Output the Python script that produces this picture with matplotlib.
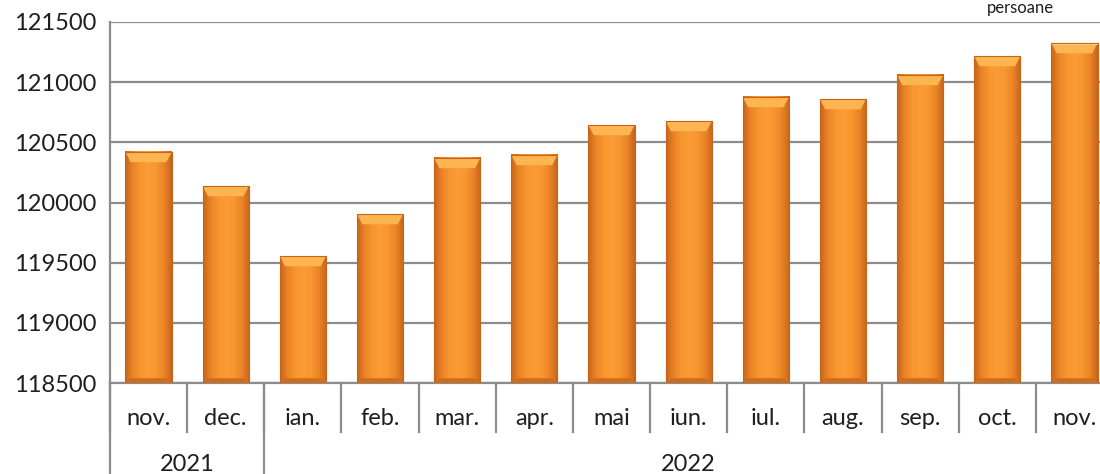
import numpy as np
import matplotlib.pyplot as plt
from matplotlib.patches import Polygon
from matplotlib.colors import LinearSegmentedColormap

months = ["nov.", "dec.", "ian.", "feb.", "mar.", "apr.", "mai", "iun.",
          "iul.", "aug.", "sep.", "oct.", "nov."]
values = [120420, 120137, 119555, 119904, 120370, 120395, 120644, 120677,
          120877, 120860, 121060, 121217, 121325]
years = ["2021", "2022"]
year_counts = [2, 11]
y_ticks = [118500, 119000, 119500, 120000, 120500, 121000, 121500]

plt.rcParams['font.family'] = ['Lato', 'DejaVu Sans']
fs = 17
txt_c = "#1f1f1f"
fig = plt.figure(figsize=(11, 4.74), dpi=100)
# axes extend slightly past the right edge like the original
ax = fig.add_axes([110 / 1100, 1 - 383 / 474, 1003 / 1100, 361 / 474])

ymin, ymax = y_ticks[0], y_ticks[-1]
ax.set_ylim(ymin, ymax)
ax.set_xlim(0, len(months))
grid_c = "#8c8c8c"
for t in y_ticks:
    ax.axhline(t, color=grid_c, lw=1.6, zorder=0)

# bar with a shaded gradient and bevelled top
cmap = LinearSegmentedColormap.from_list(
    "bar", ["#c8661c", "#ec8427", "#f8962f", "#fb9c36", "#f8962f", "#ec8427", "#c8661c"])
w = 0.6
xs = np.arange(len(months)) + 0.5
bev_x = 0.07
bev_y = 85
for x, v in zip(xs, values):
    prof = np.linspace(0, 1, 60)
    img = np.tile(prof, (40, 1))
    ax.imshow(img, cmap=cmap, extent=[x - w / 2, x + w / 2, ymin, v],
              aspect="auto", zorder=2, interpolation="bilinear")
    # darker bottom strip
    ax.add_patch(Polygon([[x - w / 2, ymin], [x + w / 2, ymin],
                          [x + w / 2 - bev_x, ymin + 40], [x - w / 2 + bev_x, ymin + 40]],
                         closed=True, fc="#cf6d1f", ec="none", zorder=3))
    # light top bevel
    ax.add_patch(Polygon([[x - w / 2, v], [x + w / 2, v],
                          [x + w / 2 - bev_x, v - bev_y], [x - w / 2 + bev_x, v - bev_y]],
                         closed=True, fc="#fdb552", ec="none", zorder=3))
    ax.add_patch(Polygon([[x - w / 2, v], [x + w / 2, v], [x + w / 2, v - 12], [x - w / 2, v - 12]],
                         closed=True, fc="#fed089", ec="none", zorder=3))
    ax.plot([x - w / 2, x - w / 2, x + w / 2, x + w / 2], [ymin, v, v, ymin],
            color="#c86318", lw=0.8, zorder=4)

for s in ["top", "right"]:
    ax.spines[s].set_visible(False)
ax.spines["left"].set_color(grid_c)
ax.spines["left"].set_linewidth(1.6)
ax.spines["bottom"].set_color(grid_c)
ax.spines["bottom"].set_linewidth(1.6)

ax.set_yticks(y_ticks)
ax.set_yticklabels([str(t) for t in y_ticks], fontsize=fs, color=txt_c)
ax.tick_params(axis="y", length=0, pad=10)
ax.set_xticks(xs)
ax.set_xticklabels([])
ax.tick_params(axis="x", direction="in", length=5, color=grid_c, width=1.2)

xt = ax.get_xaxis_transform()
# month row
for i, m in enumerate(months):
    ax.text(xs[i], -0.097, m, transform=xt, fontsize=fs,
            ha="center", va="center", color=txt_c)
for i in range(len(months) + 1):
    ax.plot([i, i], [0, -0.136], transform=xt,
            color=grid_c, lw=1.6, clip_on=False)

# year row
start = 0
for yr, n in zip(years, year_counts):
    ax.text(start + n / 2, -0.225, yr, transform=xt,
            fontsize=fs, ha="center", va="center", color=txt_c)
    ax.plot([start, start], [0, -0.32], transform=xt,
            color=grid_c, lw=1.6, clip_on=False)
    start += n

fig.text(1020 / 1100, 0.999, "persoane", fontsize=12, ha="center", va="top",
         color=txt_c)

fig.savefig("out.png", dpi=100)
